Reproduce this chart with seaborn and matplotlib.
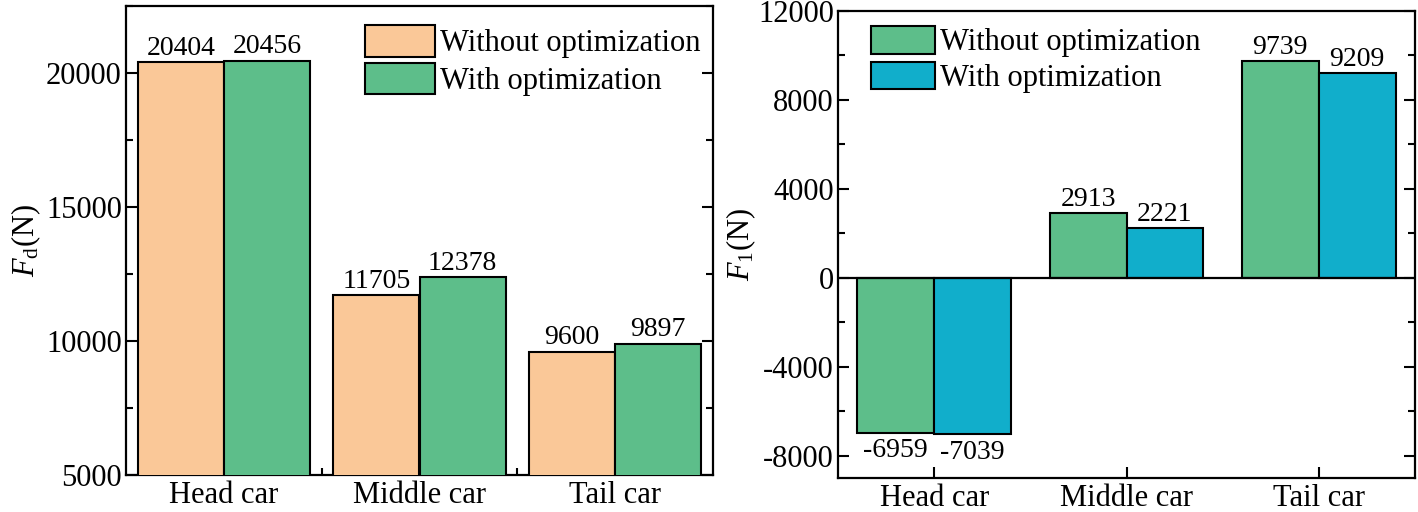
import matplotlib
matplotlib.use("Agg")
import matplotlib.pyplot as plt
import seaborn as sns
import pandas as pd
from matplotlib.ticker import MultipleLocator, FixedLocator

cars = ["Head car", "Middle car", "Tail car"]
series = ["Without optimization", "With optimization"]
drag_without = [20404, 11705, 9600]
drag_with = [20456, 12378, 9897]
lift_without = [-6959, 2913, 9739]
lift_with = [-7039, 2221, 9209]

sns.set_theme(style="ticks")
plt.rcParams['font.family'] = ['Liberation Serif', 'DejaVu Serif']
plt.rcParams['mathtext.fontset'] = 'custom'
plt.rcParams['mathtext.rm'] = 'Liberation Serif'
plt.rcParams['mathtext.it'] = 'Liberation Serif:italic'
plt.rcParams['axes.unicode_minus'] = False
plt.rcParams['text.color'] = 'black'
plt.rcParams['axes.labelcolor'] = 'black'
plt.rcParams['xtick.color'] = 'black'
plt.rcParams['ytick.color'] = 'black'

FS = 22
ANN = 20

fig = plt.figure(figsize=(14.18, 5.12), dpi=100)
W, H = 1418, 512
ax1 = fig.add_axes([126 / W, 1 - 475 / H, (713 - 126) / W, (475 - 6) / H])
ax2 = fig.add_axes([838 / W, 1 - 478 / H, (1415 - 838) / W, (478 - 11) / H])

def make_df(a, b):
    return pd.DataFrame({
        "car": cars * 2,
        "series": [series[0]] * 3 + [series[1]] * 3,
        "value": list(a) + list(b),
    })

def style_axis(ax):
    for s in ax.spines.values():
        s.set_visible(True)
        s.set_linewidth(1.6)
        s.set_color("black")
    ax.tick_params(axis="both", which="both", direction="in", colors="black",
                   labelsize=FS, width=1.5)
    ax.tick_params(axis="y", which="both", right=True, left=True)
    ax.tick_params(axis="both", which="major", length=8)
    ax.tick_params(axis="both", which="minor", length=5)
    ax.tick_params(axis="x", which="both", top=False, pad=4)
    ax.tick_params(axis="y", pad=3)
    ax.set_xlabel("")

def label_bars(ax, values_list):
    for c, vals in zip(ax.containers, values_list):
        pos = [f"{v:d}" if v >= 0 else "" for v in vals]
        neg = [f"{v:d}" if v < 0 else "" for v in vals]
        ax.bar_label(c, labels=pos, fontsize=ANN, padding=1)
        ax.bar_label(c, labels=neg, fontsize=ANN, padding=4)

# Left panel
df1 = make_df(drag_without, drag_with)
sns.barplot(data=df1, x="car", y="value", hue="series", hue_order=series,
            palette=["#FAC898", "#5DBE8A"], width=0.88, gap=0,
            edgecolor="black", linewidth=1.5, saturation=1, ax=ax1, zorder=3)
ax1.set_ylim(5000, 22500)
ax1.set_xlim(-0.5, 2.5)
ax1.yaxis.set_major_locator(MultipleLocator(5000))
ax1.yaxis.set_minor_locator(MultipleLocator(2500))
ax1.xaxis.set_minor_locator(FixedLocator([0.5, 1.5]))
style_axis(ax1)
ax1.set_ylabel(r"$F_\mathrm{d}$(N)", fontsize=FS, labelpad=2)
label_bars(ax1, [drag_without, drag_with])
leg1 = ax1.legend(loc="upper right", frameon=False, fontsize=FS,
                  handlelength=2.3, handleheight=1.2, handletextpad=0.18,
                  labelspacing=0.15, borderaxespad=0.2, borderpad=0.2,
                  bbox_to_anchor=(1.0, 0.985))

# Right panel
df2 = make_df(lift_without, lift_with)
sns.barplot(data=df2, x="car", y="value", hue="series", hue_order=series,
            palette=["#5DBE8A", "#11AECB"], width=0.8, gap=0,
            edgecolor="black", linewidth=1.5, saturation=1, ax=ax2, zorder=3)
ax2.set_ylim(-9000, 12000)
ax2.set_xlim(-0.5, 2.5)
ax2.yaxis.set_major_locator(MultipleLocator(4000))
ax2.yaxis.set_minor_locator(MultipleLocator(2000))
style_axis(ax2)
ax2.axhline(0, color="black", linewidth=1.6, zorder=4)
ax2.set_ylabel(r"$F_\mathrm{1}$(N)", fontsize=FS, labelpad=0)
label_bars(ax2, [lift_without, lift_with])
leg2 = ax2.legend(loc="upper left", frameon=False, fontsize=FS,
                  handlelength=2.1, handleheight=1.0, handletextpad=0.18,
                  labelspacing=0.15, borderaxespad=0.2, borderpad=0.3,
                  bbox_to_anchor=(0.03, 1.0))

for leg in (leg1, leg2):
    for p in leg.get_patches():
        p.set_edgecolor("black")
        p.set_linewidth(1.5)

fig.savefig("out.png", dpi=100)
